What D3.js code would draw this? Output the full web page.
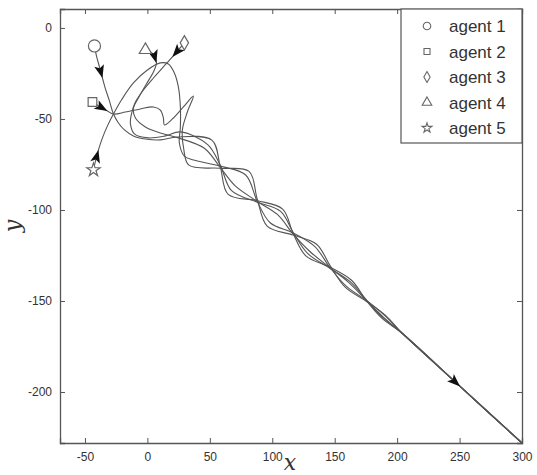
<!DOCTYPE html>
<html>
<head>
<meta charset="utf-8">
<script src="https://cdn.jsdelivr.net/npm/d3@7"></script>
<style>
  body { margin: 0; background: #fff; }
  text { font-family: Arial, "Liberation Sans", sans-serif; }
</style>
</head>
<body>
<div id="chart"></div>
<script>
// agent trajectories (x, y)
const agentNames = ["agent 1", "agent 2", "agent 3", "agent 4", "agent 5"];

const agent1 = [[-42.4,-9.9],[-40.8,-15.4],[-38.4,-21.4],[-36.0,-27.5],[-33.6,-33.5],[-30.4,-40.1],
  [-27.2,-47.3],[-23.2,-52.2],[-18.4,-56.0],[-11.2,-59.3],[-1.6,-61.0],[10.4,-61.5],[24.0,-59.9],
  [51.6,-61.6],[58.4,-76.3],[64.7,-91.4],[88.0,-94.9],[108.3,-99.5],[116.8,-113.0],[126.9,-125.2],
  [146.4,-131.5],[163.5,-138.6],[175.2,-149.6],[188.2,-159.7],[204.0,-167.7],[250.4,-196.9],[300,-228]];

const agent2 = [[-44.0,-40.7],[-37.6,-43.4],[-32.0,-45.6],[-27.2,-47.3],[-17.6,-46.2],[-5.6,-44.5],
  [4.8,-43.4],[10.4,-45.1],[12.8,-49.5],[13.6,-53.3],[20.0,-50.0],[28.8,-43.4],[36.8,-37.4],
  [32.0,-46.2],[28.0,-56.0],[29.0,-66.0],[33.2,-75.4],[58.4,-77.1],[81.4,-78.8],[88.0,-94.1],
  [95.9,-108.9],[116.8,-113.8],[135.5,-118.8],[146.4,-130.7],[158.4,-142.4],[175.2,-150.1],
  [190.7,-157.9],[204.0,-167.7],[250.4,-196.9],[300,-228]];

const agent3 = [[29.6,-8.2],[24.8,-12.1],[20.0,-15.9],[12.8,-21.4],[4.8,-27.5],[-3.2,-34.1],
  [-9.6,-40.7],[-12.8,-47.3],[-13.6,-52.7],[-10.4,-58.2],[0.8,-60.4],[14.4,-59.3],[26.4,-57.1],
  [48.3,-64.1],[58.4,-75.5],[67.4,-89.4],[88.0,-95.7],[106.7,-100.8],[116.8,-112.4],[128.5,-124.0],
  [146.4,-132.1],[162.4,-139.4],[175.2,-149.3],[188.8,-159.3],[204.0,-167.7],[250.4,-196.9],[300,-228]];

const agent4 = [[-1.6,-12.1],[2.4,-13.2],[5.6,-15.4],[7.2,-19.2],[4.8,-24.2],[-0.8,-30.8],
  [-7.2,-38.5],[-11.2,-44.0],[-9.6,-49.5],[-1.6,-54.4],[10.4,-57.7],[24.8,-60.4],
  [45.6,-66.1],[58.4,-76.7],[70.6,-86.9],[88.0,-95.3],[104.3,-102.6],[116.8,-113.3],[130.1,-122.8],
  [146.4,-131.8],[161.6,-140.0],[175.2,-149.6],[189.2,-159.0],[204.0,-167.7],[250.4,-196.9],[300,-228]];

const agent5 = [[-43.2,-78.0],[-41.6,-73.1],[-39.2,-67.0],[-36.0,-60.4],[-32.0,-53.8],[-27.2,-47.3],
  [-20.8,-39.6],[-11.2,-30.2],[0,-23.1],[10.4,-19.2],[16.8,-19.8],[21.6,-24.7],[24.8,-32.4],
  [26.4,-43.4],[26.4,-54.4],[25.6,-63.2],[29.6,-70.4],[37.0,-72.6],[58.4,-75.9],[78.7,-80.8],
  [88.0,-95.3],[98.3,-107.0],[116.8,-112.7],[133.9,-120.0],[146.4,-131.8],[159.2,-141.8],
  [175.2,-149.6],[190.4,-158.1],[204.0,-167.7],[250.4,-196.9],[300,-228]];

const agents = [agent1, agent2, agent3, agent4, agent5];
const symbols = [d3.symbolCircle, d3.symbolSquare, d3.symbolDiamond, d3.symbolTriangle, d3.symbolStar];

// arrowheads: [agent index, point index]
const arrows = [[0, 3], [1, 2], [2, 2], [3, 3], [4, 2], [0, 25]];

const xTicks = [-50, 0, 50, 100, 150, 200, 250, 300];
const yTicks = [0, -50, -100, -150, -200];

const W = 537, H = 475;
const margin = {top: 9, right: 15, bottom: 32, left: 60};

const svg = d3.select("#chart").append("svg")
  .attr("width", W).attr("height", H);

const x = d3.scaleLinear().domain([-70, 300]).range([margin.left, W - margin.right]);
const y = d3.scaleLinear().domain([-228, 10.4]).range([H - margin.bottom, margin.top]);

const axisCol = "#555";
const fmt = d => String(d);

// axes, ticks inside the box
const gx = svg.append("g").attr("transform", `translate(0,${y.range()[0]})`)
  .call(d3.axisBottom(x).tickValues(xTicks).tickSize(-5).tickPadding(9).tickFormat(fmt));
const gxt = svg.append("g").attr("transform", `translate(0,${y.range()[1]})`)
  .call(d3.axisTop(x).tickValues(xTicks).tickSize(-5).tickFormat(""));
const gy = svg.append("g").attr("transform", `translate(${x.range()[0]},0)`)
  .call(d3.axisLeft(y).tickValues(yTicks).tickSize(-5).tickPadding(8).tickFormat(fmt));
const gyr = svg.append("g").attr("transform", `translate(${x.range()[1]},0)`)
  .call(d3.axisRight(y).tickValues(yTicks).tickSize(-5).tickFormat(""));

[gx, gxt, gy, gyr].forEach(g => {
  g.select(".domain").attr("stroke", axisCol).attr("stroke-width", 1.3);
  g.selectAll(".tick line").attr("stroke", axisCol);
  g.selectAll("text").attr("fill", "#333").attr("font-size", 12);
});

// axis labels
svg.append("text")
  .attr("x", 290).attr("y", H - 5)
  .attr("text-anchor", "middle")
  .style("font-family", "'DejaVu Serif', 'Liberation Serif', serif")
  .style("font-style", "italic").attr("font-size", 22).attr("fill", "#333")
  .text("x");
svg.append("text")
  .attr("transform", `translate(20,${(y.range()[0] + y.range()[1]) / 2}) rotate(-90)`)
  .attr("text-anchor", "middle")
  .style("font-family", "'DejaVu Serif', 'Liberation Serif', serif")
  .style("font-style", "italic").attr("font-size", 22).attr("fill", "#333")
  .text("y");

// trajectories
const line = d3.line()
  .x(d => x(d[0])).y(d => y(d[1]))
  .curve(d3.curveCatmullRom.alpha(0.5));

svg.append("g").selectAll("path").data(agents).join("path")
  .attr("d", line)
  .attr("fill", "none")
  .attr("stroke", "#555")
  .attr("stroke-width", 1.1);

// arrowheads
svg.append("g").selectAll("path").data(arrows).join("path")
  .attr("d", "M0,0L-13,-5L-10,0L-13,5Z")
  .attr("fill", "#111")
  .attr("transform", ([a, i]) => {
    const p = agents[a][i], q = agents[a][i - 1];
    const ang = Math.atan2(y(p[1]) - y(q[1]), x(p[0]) - x(q[0])) * 180 / Math.PI;
    return `translate(${x(p[0])},${y(p[1])}) rotate(${ang})`;
  });

// start markers
const startSizes = [115, 75, 60, 65, 55];
svg.append("g").selectAll("path").data(agents).join("path")
  .attr("d", (d, i) => d3.symbol().type(symbols[i]).size(startSizes[i])())
  .attr("transform", d => `translate(${x(d[0][0])},${y(d[0][1])})`)
  .attr("fill", "#fff")
  .attr("stroke", "#666")
  .attr("stroke-width", 1.2);

// legend
const lg = svg.append("g");
lg.append("rect")
  .attr("x", 401).attr("y", margin.top)
  .attr("width", x.range()[1] - 401).attr("height", 134)
  .attr("fill", "#fff").attr("stroke", axisCol).attr("stroke-width", 1.2);
const legendSizes = [45, 36, 34, 40, 30];
const rows = lg.selectAll("g").data(agentNames).join("g")
  .attr("transform", (d, i) => `translate(0,${26 + i * 25.5})`);
rows.append("path")
  .attr("d", (d, i) => d3.symbol().type(symbols[i]).size(legendSizes[i])())
  .attr("transform", "translate(427,0)")
  .attr("fill", "none").attr("stroke", "#666").attr("stroke-width", 1.1);
rows.append("text")
  .attr("x", 449).attr("y", 6)
  .attr("font-size", 17).attr("fill", "#333")
  .text(d => d);
</script>
</body>
</html>
